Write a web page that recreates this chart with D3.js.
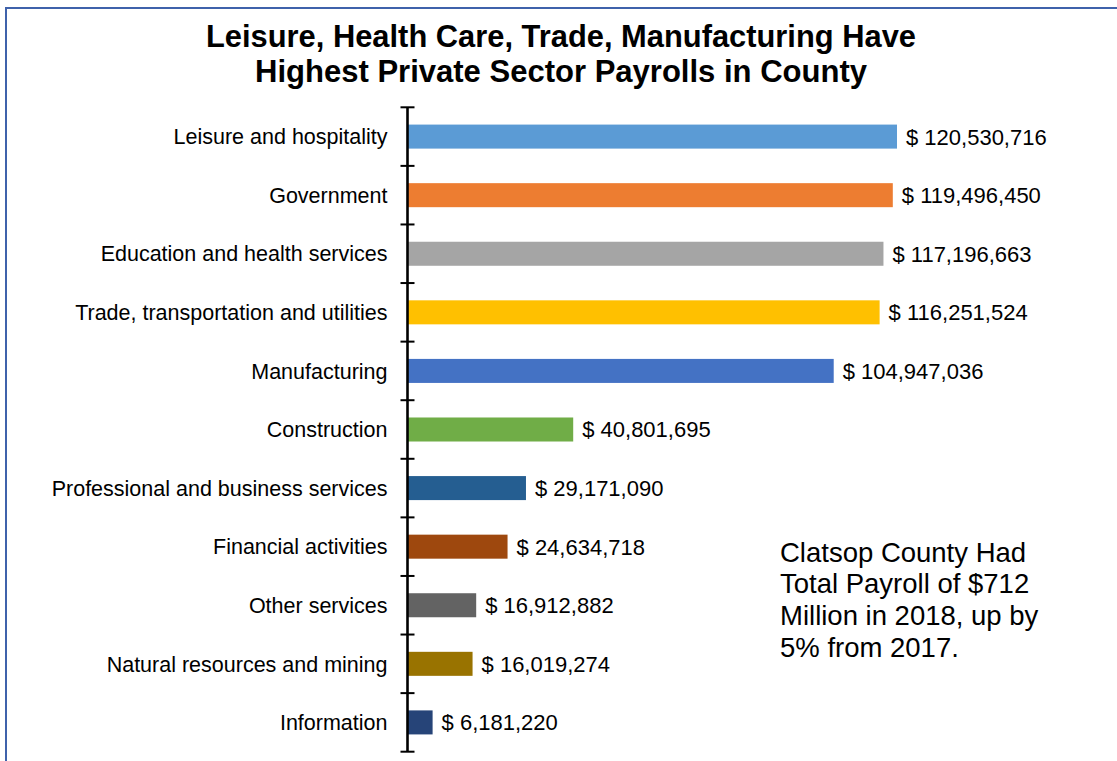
<!DOCTYPE html>
<html>
<head>
<meta charset="utf-8">
<script src="https://cdn.jsdelivr.net/npm/d3@7/dist/d3.min.js"></script>
<style>
  html, body { margin: 0; padding: 0; background: #fff; }
  svg { display: block; font-family: "Liberation Sans", Arial, sans-serif; }
</style>
</head>
<body>
<svg id="chart" width="1117" height="761"></svg>
<script>
// Clatsop County payroll by industry, 2018
const categories = [
  "Leisure and hospitality",
  "Government",
  "Education and health services",
  "Trade, transportation and utilities",
  "Manufacturing",
  "Construction",
  "Professional and business services",
  "Financial activities",
  "Other services",
  "Natural resources and mining",
  "Information"
];
const payroll = [
  120530716, 119496450, 117196663, 116251524, 104947036,
  40801695, 29171090, 24634718, 16912882, 16019274, 6181220
];
const barColors = [
  "#5B9BD5", "#ED7D31", "#A5A5A5", "#FFC000", "#4472C4",
  "#70AD47", "#255E91", "#9E480E", "#636363", "#997300", "#264478"
];
const titleLines = [
  "Leisure, Health Care, Trade, Manufacturing Have",
  "Highest Private Sector Payrolls in County"
];
const noteLines = [
  "Clatsop County Had",
  "Total Payroll of $712",
  "Million in 2018, up by",
  "5% from 2017."
];

const svg = d3.select("#chart");

// frame around the chart area
svg.append("rect")
  .attr("x", 6).attr("y", 8)
  .attr("width", 1300).attr("height", 900)
  .attr("fill", "none")
  .attr("stroke", "#3f62ab")
  .attr("stroke-width", 2);

// title
const title = svg.append("g").attr("font-weight", "bold").attr("fill", "#000");
title.selectAll("text").data(titleLines).join("text")
  .attr("x", 561)
  .attr("y", (d, i) => 47 + i * 35)
  .attr("text-anchor", "middle")
  .attr("font-size", 31)
  .attr("textLength", (d, i) => i === 0 ? 710 : 612)
  .attr("lengthAdjust", "spacingAndGlyphs")
  .text(d => d);

const axisX = 407.5;
const plotTop = 107.3, plotBottom = 751.7;

const x = d3.scaleLinear().domain([0, 120530716]).range([axisX, 897]);
const y = d3.scaleBand().domain(categories).range([plotTop, plotBottom]).paddingInner(0.59).paddingOuter(0.295);
const yb = d3.scaleBand().domain(categories).range([plotTop, plotBottom]);

// bars
svg.append("g").selectAll("rect").data(categories).join("rect")
  .attr("x", axisX + 0.5)
  .attr("y", d => y(d))
  .attr("width", (d, i) => x(payroll[i]) - axisX - 0.5)
  .attr("height", y.bandwidth())
  .attr("fill", (d, i) => barColors[i]);

// value labels
const fmt = d3.format(",");
svg.append("g").selectAll("text").data(categories).join("text")
  .attr("x", (d, i) => x(payroll[i]) + 9)
  .attr("y", d => yb(d) + yb.bandwidth() / 2)
  .attr("dy", "0.36em")
  .attr("font-size", 22)
  .attr("fill", "#000")
  .text((d, i) => "$ " + fmt(payroll[i]));

// category axis with boundary ticks crossing the line
const axisG = svg.append("g").attr("transform", `translate(${axisX},0)`);
axisG.append("line")
  .attr("x1", 0).attr("x2", 0)
  .attr("y1", plotTop).attr("y2", plotBottom)
  .attr("stroke", "#000").attr("stroke-width", 2.6);
const bounds = categories.map(c => yb(c)).concat([plotBottom]);
axisG.selectAll("line.tick").data(bounds).join("line")
  .attr("class", "tick")
  .attr("x1", -7).attr("x2", 7)
  .attr("y1", d => d).attr("y2", d => d)
  .attr("stroke", "#000").attr("stroke-width", 2);

axisG.selectAll("text").data(categories).join("text")
  .attr("x", -20)
  .attr("y", d => yb(d) + yb.bandwidth() / 2)
  .attr("dy", "0.36em")
  .attr("text-anchor", "end")
  .attr("font-size", 21.5)
  .attr("fill", "#000")
  .text(d => d);

// annotation
svg.append("g").selectAll("text").data(noteLines).join("text")
  .attr("x", 780)
  .attr("y", (d, i) => 561.5 + i * 31.7)
  .attr("font-size", 27.5)
  .attr("fill", "#000")
  .text(d => d);
</script>
</body>
</html>
